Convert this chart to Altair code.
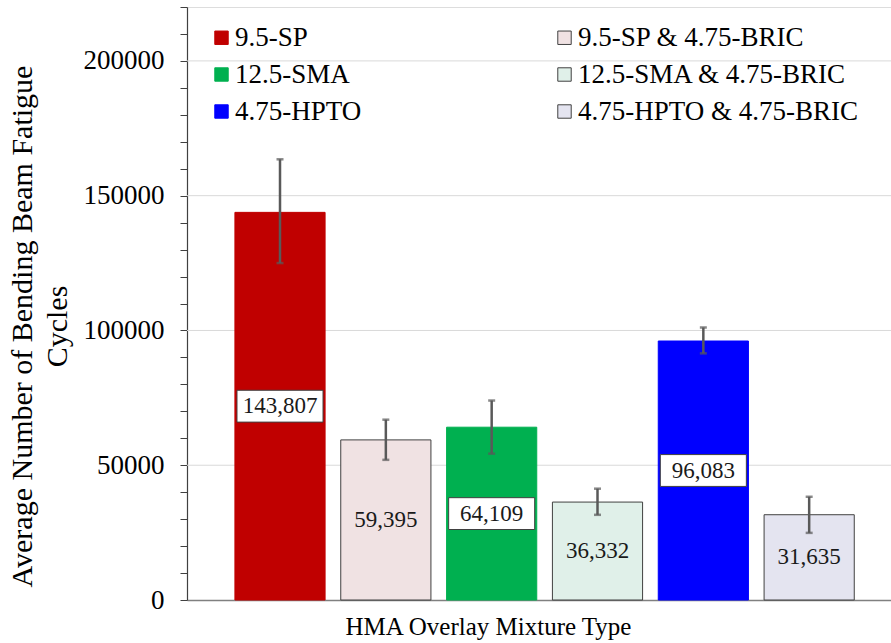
import altair as alt
import pandas as pd

categories = ["9.5-SP", "9.5-SP & 4.75-BRIC", "12.5-SMA",
              "12.5-SMA & 4.75-BRIC", "4.75-HPTO", "4.75-HPTO & 4.75-BRIC"]
means = [143807, 59395, 64109, 36332, 96083, 31635]
err_low = [125000, 52000, 54300, 31600, 91500, 24900]
err_high = [163500, 66900, 74000, 41300, 101100, 38300]
boxed = [True, False, True, False, True, False]
fill_colors = ["#C00000", "#F0E2E3", "#00B050", "#E0F0E9", "#0000FF", "#E4E4F0"]
stroke_colors = ["#C00000", "#404040", "#00B050", "#404040", "#0000FF", "#404040"]
legend_order = [0, 2, 4, 1, 3, 5]
grid_values = [50000, 100000, 150000, 200000]
tick_values = list(range(0, 220001, 10000))

FONT = "Liberation Serif"

df = pd.DataFrame({"cat": categories, "mean": means, "lo": err_low,
                   "hi": err_high, "boxed": boxed})
df["mid"] = df["mean"] / 2

leg_domain = [categories[i] for i in legend_order]
leg_fill = [fill_colors[i] for i in legend_order]
leg_stroke = [stroke_colors[i] for i in legend_order]

yscale = alt.Scale(domain=[0, 220000], nice=False, zero=True)
xscale = alt.Scale(domain=categories, paddingInner=0.148, paddingOuter=0.4, align=0.566)

yaxis = alt.Axis(values=tick_values,
                 labelExpr="datum.value % 50000 == 0 ? datum.value : ''",
                 grid=False, tickSize=7, tickColor="#404040",
                 domainColor="#404040", domainWidth=1.2, tickWidth=1,
                 labelFont=FONT, labelFontSize=27, labelColor="#000000",
                 labelPadding=16,
                 title=["Average Number of Bending Beam Fatigue", "Cycles"],
                 titleFont=FONT, titleFontSize=30, titleFontWeight="normal",
                 titleColor="#000000", titleX=-165, titleY=319,
                 titleBaseline="middle", titleLineHeight=35)
xaxis = alt.Axis(labels=False, ticks=False, title="HMA Overlay Mixture Type",
                 titleFont=FONT, titleFontSize=25, titleFontWeight="normal",
                 titleColor="#000000", titlePadding=14, grid=False,
                 titleX=301, titleAlign="center",
                 domainColor="#808080", domainWidth=1.5)

legend = alt.Legend(title=None, orient="none", legendX=21, legendY=17, columns=2,
                    columnPadding=189, rowPadding=9, symbolType="square",
                    symbolSize=180, symbolStrokeWidth=1, labelFont=FONT,
                    labelFontSize=27, labelColor="#000000", labelLimit=400,
                    labelOffset=0, padding=0)

X = alt.X("cat:N", scale=xscale, sort=categories, axis=xaxis)

grid = alt.Chart(pd.DataFrame({"g": grid_values})).mark_rule(
    color="#d9d9d9", strokeWidth=1
).encode(y=alt.Y("g:Q", scale=yscale, axis=yaxis))

base = alt.Chart(df)

bars = base.mark_bar(strokeWidth=1).encode(
    x=X,
    y=alt.Y("mean:Q", scale=yscale, axis=yaxis),
    fill=alt.Fill("cat:N", scale=alt.Scale(domain=leg_domain, range=leg_fill), legend=legend),
    stroke=alt.Stroke("cat:N", scale=alt.Scale(domain=leg_domain, range=leg_stroke), legend=legend),
)

err = base.mark_rule(color="#595959", strokeWidth=2.5).encode(
    x=X, y=alt.Y("lo:Q", scale=yscale, axis=yaxis), y2="hi:Q",
)
cap_lo = base.mark_tick(color="#595959", size=7, thickness=2.5).encode(
    x=X, y=alt.Y("lo:Q", scale=yscale, axis=yaxis),
)
cap_hi = base.mark_tick(color="#595959", size=7, thickness=2.5).encode(
    x=X, y=alt.Y("hi:Q", scale=yscale, axis=yaxis),
)

box_path = "M-1,-0.37L1,-0.37L1,0.37L-1,0.37Z"
boxes = alt.Chart(df[df["boxed"]]).mark_point(
    shape=box_path, size=7400, filled=True, fill="white", fillOpacity=1,
    stroke="#404040", strokeWidth=1, strokeOpacity=1, opacity=1
).encode(
    x=X, y=alt.Y("mid:Q", scale=yscale, axis=yaxis),
)

texts = base.mark_text(font=FONT, fontSize=23, color="#1a1a1a", baseline="middle").encode(
    x=X, y=alt.Y("mid:Q", scale=yscale, axis=yaxis),
    text=alt.Text("mean:Q", format=","),
)

chart = alt.layer(grid, bars, err, cap_lo, cap_hi, boxes, texts).properties(
    width=704, height=593,
    autosize=alt.AutoSizeParams(type="none"),
    padding={"left": 187, "top": 7, "right": 0, "bottom": 43},
).configure_view(stroke=None).configure(font=FONT, background="white")

chart.save("out.html", embed_options={"renderer": "svg", "actions": False})
